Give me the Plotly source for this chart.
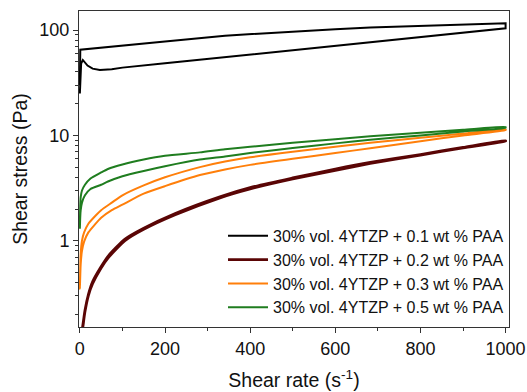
import plotly.graph_objects as go

labels = ["30% vol. 4YTZP + 0.1 wt % PAA", "30% vol. 4YTZP + 0.2 wt % PAA",
          "30% vol. 4YTZP + 0.3 wt % PAA", "30% vol. 4YTZP + 0.5 wt % PAA"]
colors = ["#000000", "#5a0505", "#ff7f0a", "#1f7d1f"]
widths = [2, 2.6, 2, 2]
shapes = ["linear", "spline", "spline", "spline"]

# 0.1 wt % PAA (ramp up, then ramp down)
rate_01_up = [0, 3, 7, 12, 18, 30, 47, 75, 100, 200, 341, 400, 501, 600, 682, 800, 900, 1000]
stress_01_up = [25, 48, 52, 49, 46, 43, 41.8, 42.5, 44, 48.3, 55.4, 58.5, 64.5, 71, 76.8, 86, 94.5, 104]
rate_01_down = [1000, 900, 800, 682, 600, 501, 400, 341, 200, 100, 50, 4, 1, 0]
stress_01_down = [116, 113, 110, 106, 102, 97, 92, 88.5, 78, 71, 68, 65.6, 65, 30]

# 0.2 wt % PAA
rate_02_up = [5, 8, 12, 20, 30, 50, 67, 106, 150, 224, 329, 400, 500, 600, 682, 800, 900, 1000]
stress_02_up = [0.13, 0.16, 0.21, 0.30, 0.39, 0.55, 0.69, 1.0, 1.28, 1.76, 2.55, 3.1, 3.85, 4.65, 5.4, 6.5, 7.6, 8.8]
rate_02_down = [1000, 900, 800, 682, 600, 500, 400, 329, 224, 150, 106, 67, 50, 30, 20, 12, 8, 5]
stress_02_down = [8.9, 7.7, 6.6, 5.55, 4.8, 3.95, 3.2, 2.62, 1.82, 1.32, 1.04, 0.72, 0.57, 0.41, 0.31, 0.22, 0.17, 0.14]

# 0.3 wt % PAA
rate_03_up = [0, 2, 5, 10, 20, 35, 50, 75, 100, 150, 200, 282, 341, 400, 500, 600, 682, 800, 900, 1000]
stress_03_up = [0.35, 0.75, 1.0, 1.2, 1.45, 1.7, 1.95, 2.3, 2.7, 3.35, 4.0, 5.0, 5.65, 6.2, 7.0, 7.8, 8.5, 9.5, 10.4, 11.4]
rate_03_down = [1000, 900, 800, 682, 600, 500, 400, 341, 282, 200, 150, 100, 75, 50, 35, 20, 10, 5, 2, 0]
stress_03_down = [11.2, 10.0, 8.8, 7.55, 6.8, 6.0, 5.25, 4.75, 4.2, 3.3, 2.8, 2.2, 1.95, 1.65, 1.42, 1.2, 0.98, 0.8, 0.6, 0.35]

# 0.5 wt % PAA
rate_05_up = [0, 1, 2, 5, 12, 25, 50, 66, 100, 150, 200, 282, 341, 400, 500, 600, 682, 800, 900, 1000]
stress_05_up = [1.4, 2.2, 2.6, 3.0, 3.4, 3.9, 4.45, 4.8, 5.3, 5.9, 6.4, 6.9, 7.4, 7.8, 8.5, 9.2, 9.8, 10.6, 11.3, 12.0]
rate_05_down = [1000, 900, 800, 682, 600, 500, 400, 341, 282, 200, 150, 100, 66, 50, 25, 12, 5, 2, 1, 0]
stress_05_down = [11.8, 10.9, 10.0, 9.1, 8.4, 7.6, 6.8, 6.3, 5.9, 5.1, 4.6, 4.1, 3.65, 3.4, 3.1, 2.7, 2.3, 1.95, 1.7, 1.3]

x_ticks = [0, 200, 400, 600, 800, 1000]
y_ticks = [1, 10, 100]

series = [
    (rate_01_up + rate_01_down, stress_01_up + stress_01_down),
    (rate_02_up + rate_02_down, stress_02_up + stress_02_down),
    (rate_03_up + rate_03_down, stress_03_up + stress_03_down),
    (rate_05_up + rate_05_down, stress_05_up + stress_05_down),
]

fig = go.Figure()
for (xs, ys), name, c, w, s in zip(series, labels, colors, widths, shapes):
    line = dict(color=c, width=w, shape=s)
    if s == "spline":
        line["smoothing"] = 0.6
    fig.add_trace(go.Scatter(x=xs, y=ys, mode="lines", name=name, line=line))

font = "Liberation Sans, Arial, sans-serif"
fig.update_layout(
    width=527, height=392,
    margin=dict(l=79, r=18, t=11, b=65, autoexpand=False),
    paper_bgcolor="white", plot_bgcolor="white",
    font=dict(family=font, size=18, color="#111"),
    showlegend=True,
    legend=dict(x=1.0, y=0.342, xanchor="right", yanchor="top",
                bgcolor="rgba(0,0,0,0)", font=dict(size=16, color="#111"),
                itemwidth=40, tracegroupgap=0),
    xaxis=dict(range=[-2, 1008], tickmode="array", tickvals=x_ticks,
               ticks="outside", ticklen=5, automargin=False,
               tickcolor="#333", linecolor="#333", linewidth=1, mirror=True,
               showgrid=False, zeroline=False,
               minor=dict(tickmode="linear", dtick=100, tick0=0, ticks="outside",
                          ticklen=3, tickcolor="#333", showgrid=False),
               title=dict(text="Shear rate (s<sup>-1</sup>)", font=dict(size=19.5), standoff=15)),
    yaxis=dict(type="log", range=[-0.819, 2.181], tickmode="array", tickvals=y_ticks,
               ticktext=["1", "10", "100"], automargin=False,
               ticks="outside", ticklen=5, tickcolor="#333", linecolor="#333", linewidth=1,
               mirror=True, showgrid=False, zeroline=False,
               minor=dict(dtick="D1", ticks="outside", ticklen=3, tickcolor="#333", showgrid=False),
               title=dict(text="Shear stress (Pa)", font=dict(size=19.5), standoff=6)),
)

fig.write_html("out.html", config={"displayModeBar": False},
               post_script="document.body.style.margin='0px';")
